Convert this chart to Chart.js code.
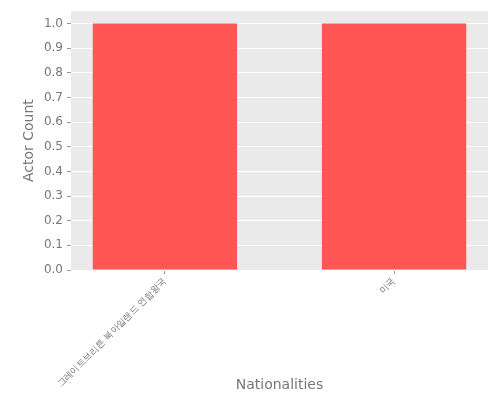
<!DOCTYPE html>
<html>
<head>
<meta charset="utf-8">
<script src="https://cdn.jsdelivr.net/npm/chart.js@4"></script>
<style>
  html, body { margin: 0; padding: 0; background: #fff; }
  #wrap { width: 500px; height: 400px; }
</style>
</head>
<body>
<div id="wrap"><canvas id="myChart" width="500" height="400"></canvas></div>
<script>
// dados do grafico
const nationalities = ['그레이트브리튼 북아일랜드 연합왕국', '미국'];
const actorCounts = [1, 1];
const yTicks = [0, 0.1, 0.2, 0.3, 0.4, 0.5, 0.6, 0.7, 0.8, 0.9, 1.0];

const textGray = '#777777';

// fundo cinza da area do grafico
const plotBackground = {
    id: 'plotBackground',
    beforeDraw(chart) {
        const a = chart.chartArea;
        const ctx = chart.ctx;
        ctx.save();
        ctx.fillStyle = '#eaeaea';
        ctx.fillRect(a.left, a.top, a.right - a.left, a.bottom - a.top);
        ctx.restore();
    }
};

const ctx = document.getElementById('myChart');
new Chart(ctx, {
    type: 'bar',
    data: {
        datasets: [{
            label: 'Actor Count',
            data: nationalities.map((n, i) => ({ x: i, y: actorCounts[i] })),
            backgroundColor: '#ff5555',
            borderWidth: 0,
            barPercentage: 0.63,
            categoryPercentage: 1
        }]
    },
    options: {
        responsive: false,
        animation: false,
        layout: { padding: { top: 10, right: 12, left: 21, bottom: 0 } },
        plugins: {
            legend: { display: false },
            tooltip: { enabled: false }
        },
        scales: {
            x: {
                type: 'linear',
                offset: false,
                min: -0.41,
                max: 1.41,
                afterBuildTicks: scale => {
                    scale.ticks = nationalities.map((n, i) => ({ value: i }));
                },
                afterFit: scale => { scale.height = 130; },
                grid: { offset: false, drawOnChartArea: false, tickColor: '#999999', tickLength: 4, lineWidth: 1 },
                border: { display: false },
                ticks: {
                    color: textGray,
                    font: { family: 'DejaVu Sans', size: 9 },
                    maxRotation: 45,
                    minRotation: 45,
                    padding: 2,
                    callback: v => nationalities[v]
                },
                title: {
                    display: true,
                    text: 'Nationalities',
                    color: textGray,
                    font: { family: 'DejaVu Sans', size: 14 },
                    padding: { top: 0, bottom: 6 }
                }
            },
            y: {
                min: 0,
                max: 1.05,
                afterBuildTicks: scale => {
                    scale.ticks = yTicks.map(v => ({ value: v }));
                },
                afterFit: scale => { scale.width = 50; },
                grid: { color: '#ffffff', tickColor: '#999999', tickLength: 4, lineWidth: 1 },
                border: { display: false },
                ticks: {
                    color: textGray,
                    font: { family: 'DejaVu Sans', size: 12 },
                    padding: 4,
                    callback: v => v.toFixed(1)
                },
                title: {
                    display: true,
                    text: 'Actor Count',
                    color: textGray,
                    font: { family: 'DejaVu Sans', size: 14 },
                    padding: { top: 0, bottom: 0 }
                }
            }
        }
    },
    plugins: [plotBackground]
});
</script>
</body>
</html>
